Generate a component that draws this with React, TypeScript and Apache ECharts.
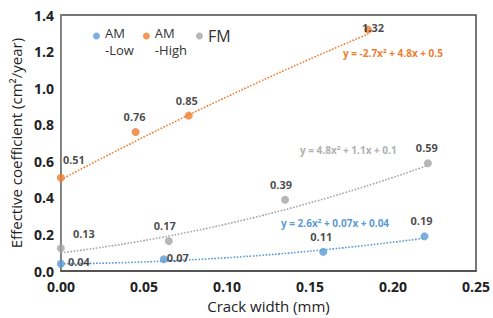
import React, { useEffect, useRef } from "react";
import * as echarts from "echarts";

const seriesNames = ["AM -Low", "AM -High", "FM"];
const colors = ["#5B9BD5", "#ED7D31", "#A5A5A5"];

const amLowX = [0, 0.062, 0.158, 0.219];
const amLowY = [0.04, 0.065, 0.105, 0.19];
const amLowLabels = ["0.04", "0.07", "0.11", "0.19"];

const amHighX = [0, 0.045, 0.077, 0.185];
const amHighY = [0.51, 0.76, 0.85, 1.32];
const amHighLabels = ["0.51", "0.76", "0.85", "1.32"];

const fmX = [0, 0.065, 0.135, 0.221];
const fmY = [0.125, 0.165, 0.39, 0.59];
const fmLabels = ["0.13", "0.17", "0.39", "0.59"];

// trendline coefficients [a, b, c] for y = a x^2 + b x + c
const amLowCoef = [2.6, 0.07, 0.04];
const amHighCoef = [-2.7, 4.8, 0.5];
const fmCoef = [4.8, 1.1, 0.1];

const equations = [
  "y = 2.6x² + 0.07x + 0.04",
  "y = -2.7x² + 4.8x + 0.5",
  "y = 4.8x² + 1.1x + 0.1",
];

const xTicks = { min: 0, max: 0.25, interval: 0.05 };
const yTicks = { min: 0, max: 1.4, interval: 0.2 };

const FONT = "'Open Sans', 'Noto Sans', sans-serif";

function trend(coef: number[], xMax: number) {
  const pts: number[][] = [];
  const n = 40;
  for (let i = 0; i <= n; i++) {
    const x = (xMax * i) / n;
    pts.push([x, coef[0] * x * x + coef[1] * x + coef[2]]);
  }
  return pts;
}

export default function App() {
  const ref = useRef<HTMLDivElement>(null);
  useEffect(() => {
    if (!ref.current) return;
    const chart = echarts.init(ref.current, undefined, { renderer: "svg" });

    const lowPos = [
      { position: "right", offset: [-2, -2] },
      { position: "right", offset: [-6, -2] },
      { position: "top", offset: [-2, -1] },
      { position: "top", offset: [-3, -1] },
    ];
    const highPos = [
      { position: "top", offset: [13, -4] },
      { position: "top", offset: [-1, -1] },
      { position: "top", offset: [-2, -1] },
      { position: "inside", offset: [5, -2] },
    ];
    const fmPos = [
      { position: "top", offset: [23, 0] },
      { position: "top", offset: [-4, -1] },
      { position: "top", offset: [-4, -1] },
      { position: "top", offset: [-1, -1] },
    ];

    const mk = (xs: number[], ys: number[], labels: string[], pos: any[]) =>
      xs.map((x, i) => ({
        value: [x, ys[i]],
        label: {
          show: true,
          formatter: labels[i],
          ...pos[i],
        },
      }));

    const scatterLabel = {
      show: true,
      color: "#1a1a1a",
      fontSize: 11,
      fontWeight: "bold" as const,
      fontFamily: FONT,
    };

    const pointData = [
      mk(amLowX, amLowY, amLowLabels, lowPos),
      mk(amHighX, amHighY, amHighLabels, highPos),
      mk(fmX, fmY, fmLabels, fmPos),
    ];
    const trendData = [
      trend(amLowCoef, amLowX[amLowX.length - 1]),
      trend(amHighCoef, amHighX[amHighX.length - 1]),
      trend(fmCoef, fmX[fmX.length - 1]),
    ];

    const series: any[] = [];
    for (let i = 0; i < 3; i++) {
      series.push({
        type: "line",
        name: seriesNames[i] + " trend",
        data: trendData[i],
        showSymbol: false,
        symbol: "none",
        smooth: true,
        lineStyle: { color: colors[i], width: 1.6, type: [1.6, 1.6] },
        z: 1,
        silent: true,
      });
    }
    for (let i = 0; i < 3; i++) {
      series.push({
        type: "scatter",
        name: seriesNames[i],
        data: pointData[i],
        symbol: "circle",
        symbolSize: 8,
        itemStyle: { color: colors[i] },
        label: scatterLabel,
        z: 3,
      });
    }

    chart.setOption({
      animation: false,
      textStyle: { fontFamily: FONT },
      grid: {
        left: 59,
        right: 16,
        top: 15,
        bottom: 42,
        show: true,
        borderColor: "#4a4a4a",
        borderWidth: 1.5,
      },
      legend: {
        data: seriesNames,
        left: 88,
        top: 9,
        icon: "circle",
        itemWidth: 7,
        itemHeight: 7,
        itemGap: 9,
        formatter: (name: string) =>
          name === "FM" ? "{big|FM}" : name.replace(" ", "\n"),
        textStyle: {
          fontSize: 13,
          color: "#333",
          fontFamily: FONT,
          lineHeight: 17,
          padding: [10, 0, 0, 0],
          rich: {
            big: { fontSize: 16, color: "#333", fontFamily: FONT, padding: [0, 0, 10, 0] },
          },
        },
      },
      xAxis: {
        type: "value",
        min: xTicks.min,
        max: xTicks.max,
        interval: xTicks.interval,
        name: "Crack width (mm)",
        nameLocation: "middle",
        nameGap: 20,
        nameTextStyle: { fontSize: 15, color: "#222", fontFamily: FONT },
        axisLine: { show: true, lineStyle: { color: "#4a4a4a", width: 1.5 } },
        axisTick: { show: false },
        splitLine: { show: false },
        axisLabel: {
          formatter: (v: number) => v.toFixed(2),
          fontSize: 14,
          fontWeight: "bold",
          color: "#222",
          margin: 8,
          fontFamily: FONT,
        },
      },
      yAxis: {
        type: "value",
        min: yTicks.min,
        max: yTicks.max,
        interval: yTicks.interval,
        name: "Effective coefficient (cm²/year)",
        nameLocation: "middle",
        nameGap: 25,
        nameTextStyle: { fontSize: 15, color: "#222", fontFamily: FONT },
        axisLine: { show: true, lineStyle: { color: "#888", width: 1.5 } },
        axisTick: { show: false },
        splitLine: { show: false },
        axisLabel: {
          formatter: (v: number) => v.toFixed(1),
          fontSize: 14,
          fontWeight: "bold",
          color: "#222",
          margin: 7,
          fontFamily: FONT,
        },
      },
      graphic: [
        {
          type: "text",
          left: 343,
          top: 48,
          style: { text: equations[1], fill: colors[1], fontSize: 10, fontWeight: "bold", fontFamily: FONT },
        },
        {
          type: "text",
          left: 300,
          top: 145,
          style: { text: equations[2], fill: "#B0B0B0", fontSize: 10, fontWeight: "bold", fontFamily: FONT },
        },
        {
          type: "text",
          left: 281,
          top: 218,
          style: { text: equations[0], fill: colors[0], fontSize: 10, fontWeight: "bold", fontFamily: FONT },
        },
      ],
      series,
    });
    return () => chart.dispose();
  }, []);
  return <div ref={ref} style={{ width: 493, height: 318, position: "absolute", left: 0, top: 0 }} />;
}
